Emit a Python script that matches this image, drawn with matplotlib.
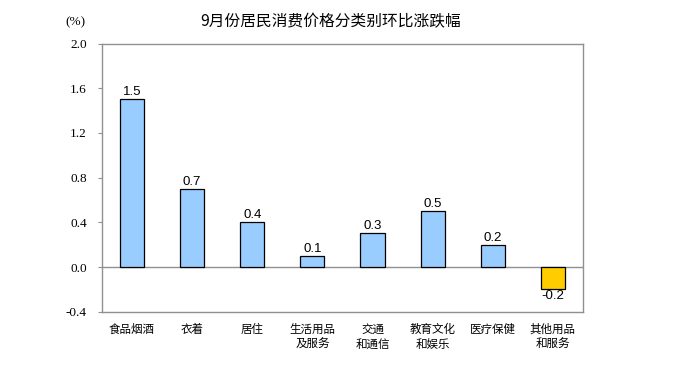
import matplotlib
matplotlib.use("Agg")
import matplotlib.pyplot as plt

categories = ["食品烟酒", "衣着", "居住", "生活用品\n及服务", "交通\n和通信", "教育文化\n和娱乐", "医疗保健", "其他用品\n和服务"]
values = [1.5, 0.7, 0.4, 0.1, 0.3, 0.5, 0.2, -0.2]
yticks = [-0.4, 0.0, 0.4, 0.8, 1.2, 1.6, 2.0]
title = "9月份居民消费价格分类别环比涨跌幅"

cjk = ["Noto Sans CJK SC", "DejaVu Sans"]

fig = plt.figure(figsize=(6.74, 3.65), dpi=100)
ax = fig.add_axes([0.1513, 0.146, 0.7136, 0.7348])

colors = ["#99CCFF" if v >= 0 else "#FFCC00" for v in values]
x = list(range(len(values)))
ax.bar(x, values, width=0.4, color=colors, edgecolor="black", linewidth=0.9, zorder=3)
ax.axhline(0, color="#909090", linewidth=1.0, zorder=2)

for xi, v in zip(x, values):
    if v >= 0:
        ax.text(xi, v + 0.01, f"{v:.1f}", ha="center", va="bottom", fontsize=9.5, family="Liberation Sans")
    else:
        ax.text(xi, v - 0.01, f"{v:.1f}", ha="center", va="top", fontsize=9.5, family="Liberation Sans")

ax.set_xlim(-0.5, len(values) - 0.5)
ax.set_ylim(-0.4, 2.0)
ax.set_yticks(yticks)
ax.set_yticklabels([f"{t:.1f}" for t in yticks], family="Liberation Serif", fontsize=9.5)
ax.set_xticks(x)
ax.set_xticklabels(categories, family=cjk, fontsize=8.3, linespacing=1.25)
ax.tick_params(axis="x", length=0, pad=8)
ax.tick_params(axis="y", length=3, color="#909090", pad=8)
for s in ax.spines.values():
    s.set_color("#909090")
    s.set_linewidth(1.0)

fig.text(0.490, 0.94, title, ha="center", va="center", family=cjk, fontsize=11.3)
fig.text(0.112, 0.94, "(%)", ha="center", va="center", family="Liberation Serif", fontsize=9.5)

fig.savefig("out.png", dpi=100)
